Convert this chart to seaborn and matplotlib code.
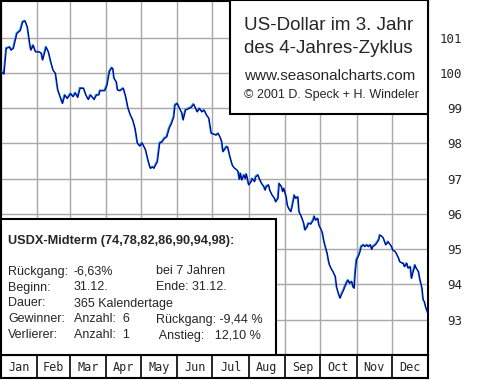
import matplotlib
matplotlib.use("Agg")
import matplotlib.pyplot as plt
import matplotlib.patheffects as pe
from matplotlib.patches import Rectangle
import numpy as np
import pandas as pd
import seaborn as sns

# --- DATEN ---
# Tag im Jahr (0..365) und Indexstand USDX (Durchschnitt der Midterm-Jahre)
tage = [1, 3, 5, 8, 9, 11, 14, 17, 19, 21, 23, 25, 26, 28, 30, 33, 35, 36, 39, 41,
        43, 45, 47, 49, 51, 53, 55, 57, 60, 62, 64, 66, 68, 71, 73, 75, 77, 80, 82, 84,
        85, 89, 91, 93, 95, 96, 97, 99, 100, 102, 105, 107, 109, 111, 113, 115, 117, 119, 121, 124,
        126, 128, 130, 131, 134, 136, 138, 140, 142, 144, 146, 148, 149, 151, 153, 155, 156, 158, 161, 163,
        165, 166, 168, 170, 172, 174, 176, 178, 180, 182, 184, 186, 188, 189, 190, 193, 194, 196, 198, 199,
        200, 202, 203, 204, 205, 206, 208, 209, 210, 212, 214, 215, 217, 218, 220, 221, 223, 225, 226, 227,
        229, 230, 232, 234, 235, 237, 238, 240, 241, 242, 244, 245, 246, 248, 249, 251, 252, 254, 255, 257,
        259, 260, 262, 263, 265, 267, 268, 269, 271, 272, 274, 275, 276, 277, 279, 280, 281, 283, 284, 286,
        287, 289, 290, 291, 293, 294, 296, 297, 298, 300, 301, 302, 303, 304, 306, 307, 308, 310, 311, 313,
        314, 316, 317, 318, 320, 321, 323, 324, 326, 327, 329, 330, 331, 333, 334, 335, 337, 338, 340, 341,
        343, 344, 345, 347, 348, 350, 351, 352, 354, 355, 357, 358, 360, 361, 362, 363, 364, 365]
kurs = [100.03, 99.96, 100.69, 100.73, 100.64, 100.69, 101.11, 101.20, 101.44, 101.47,
        101.30, 100.83, 100.64, 100.78, 100.59, 100.59, 100.55, 100.36, 100.73, 100.59,
        100.31, 100.07, 99.98, 99.51, 99.32, 99.13, 99.37, 99.27, 99.41, 99.32,
        99.43, 99.30, 99.56, 99.56, 99.37, 99.24, 99.37, 99.24, 99.37, 99.37,
        99.49, 99.49, 99.65, 100.03, 100.14, 100.12, 99.84, 99.74, 99.51, 99.49,
        99.56, 99.32, 98.99, 98.80, 98.66, 98.42, 98.00, 97.92, 98.01, 97.81,
        97.52, 97.29, 97.33, 97.29, 97.48, 98.01, 98.04, 98.14, 98.18, 98.42,
        98.56, 98.75, 99.08, 99.13, 98.99, 98.85, 98.66, 98.94, 98.99, 99.02,
        99.11, 99.04, 98.89, 98.99, 98.89, 98.94, 98.80, 98.71, 98.28, 98.26,
        98.23, 98.28, 98.14, 98.04, 97.76, 97.90, 97.90, 97.62, 97.38, 97.33,
        97.29, 97.24, 97.19, 96.98, 97.15, 96.96, 97.10, 97.00, 97.13, 96.82,
        96.91, 97.00, 96.91, 97.05, 97.10, 97.00, 96.86, 96.77, 96.67, 96.77,
        96.82, 96.67, 96.53, 96.44, 96.34, 96.44, 96.86, 96.77, 96.63, 96.72,
        96.48, 96.25, 96.16, 96.06, 96.20, 96.53, 96.44, 96.48, 96.06, 95.92,
        95.73, 95.54, 95.64, 95.73, 95.71, 95.82, 95.93, 95.82, 95.87, 95.68,
        95.54, 95.45, 95.26, 95.12, 94.88, 94.69, 94.55, 94.41, 94.36, 94.22,
        93.93, 93.70, 93.61, 93.70, 93.84, 93.93, 94.08, 94.12, 94.03, 94.08,
        93.93, 93.89, 94.36, 94.69, 94.83, 94.93, 95.07, 95.12, 95.07, 95.12,
        95.07, 95.12, 94.99, 95.07, 95.12, 95.16, 95.26, 95.40, 95.35, 95.31,
        95.12, 95.16, 95.21, 95.12, 95.07, 94.97, 94.93, 94.88, 94.74, 94.64,
        94.60, 94.60, 94.50, 94.60, 94.46, 94.50, 94.17, 94.31, 94.55, 94.46,
        94.36, 94.17, 93.89, 93.56, 93.51, 93.37, 93.27, 93.18]

monate = ["Jan", "Feb", "Mar", "Apr", "May", "Jun", "Jul", "Aug", "Sep", "Oct", "Nov", "Dec"]
monatstage = [31, 28, 31, 30, 31, 30, 31, 31, 30, 31, 30, 31]
y_ticks = [93, 94, 95, 96, 97, 98, 99, 100, 101]

titel = ["US-Dollar im 3. Jahr", "des 4-Jahres-Zyklus"]
quelle = "www.seasonalcharts.com"
copyright_txt = "\u00a9 2001 D. Speck + H. Windeler"
info_titel = "USDX-Midterm (74,78,82,86,90,94,98):"
info_spalte1 = ["R\u00fcckgang:", "Beginn:", "Dauer:", "Gewinner:", "Verlierer:"]
info_spalte2 = ["-6,63%", "31.12.", "365 Kalendertage", "Anzahl:  6", "Anzahl:  1"]
info_spalte3 = ["bei 7 Jahren", "Ende: 31.12.", "", "R\u00fcckgang: -9,44 %", " Anstieg:   12,10 %"]

W, H = 480, 380


def fx(x):
    return x / W


def fy(y):
    return 1 - y / H


sns.set_style("white")
plt.rcParams["font.family"] = ["Liberation Sans", "DejaVu Sans"]

df = pd.DataFrame({"tag": tage, "kurs": kurs})
grenzen = np.concatenate([[0], np.cumsum(monatstage)])

fig = plt.figure(figsize=(W / 100, H / 100), dpi=100)
fig.patch.set_facecolor("white")

ax = fig.add_axes([fx(0.5), fy(355), fx(427.5), 354.5 / H])
ax.set_facecolor("white")
sns.lineplot(data=df, x="tag", y="kurs", ax=ax, estimator=None, color="#0000a0",
             lw=0.9, zorder=3,
             path_effects=[pe.SimpleLineShadow(offset=(-0.5, 0.5), shadow_color="#10a0d0", alpha=1.0),
                           pe.Normal()])
ax.set_xlim(0, 365)
ax.set_ylim(92.0, 102.05)
ax.set_xticks(grenzen)
ax.set_xticklabels([])
ax.set_yticks(y_ticks)
ax.yaxis.tick_right()
ax.tick_params(axis="both", length=0)
ax.tick_params(axis="y", pad=24.5, labelsize=9)
for lab in ax.get_yticklabels():
    lab.set_horizontalalignment("right")
    lab.set_fontfamily("DejaVu Sans Mono")
ax.grid(True, color="#a8a8a8", lw=1.0)
ax.set_xlabel("")
ax.set_ylabel("")
for s in ax.spines.values():
    s.set_color("black")
    s.set_linewidth(1.5)

# Monatsleiste
axm = fig.add_axes([fx(0.5), fy(378), fx(427.5), 23 / H])
axm.set_xlim(0, 365)
axm.set_ylim(0, 1)
axm.set_xticks([])
axm.set_yticks([])
for g in grenzen[1:-1]:
    axm.axvline(g, color="black", lw=1.2)
for i, m in enumerate(monate):
    axm.text((grenzen[i] + grenzen[i + 1]) / 2, 0.45, m, ha="center", va="center",
             fontsize=8.5, family="DejaVu Sans Mono")
for s in axm.spines.values():
    s.set_color("black")
    s.set_linewidth(1.5)

# Titelbox
fig.add_artist(Rectangle((fx(230), fy(114)), fx(428 - 230), 114 / H, transform=fig.transFigure,
                         facecolor="white", edgecolor="black", lw=1.5, zorder=5))
fig.text(fx(244), fy(30), titel[0], fontsize=13.5, va="baseline", zorder=6)
fig.text(fx(244), fy(53), titel[1], fontsize=13.5, va="baseline", zorder=6)
fig.text(fx(244), fy(80), quelle, fontsize=11, va="baseline", zorder=6)
fig.text(fx(244), fy(98), copyright_txt, fontsize=9, va="baseline", zorder=6)

# Infobox
fig.add_artist(Rectangle((fx(0.5), fy(355)), fx(275), (355 - 219) / H, transform=fig.transFigure,
                         facecolor="white", edgecolor="black", lw=1.5, zorder=5))
fig.text(fx(8), fy(243.5), info_titel, fontsize=9.2, fontweight="bold", va="baseline", zorder=6)
for i in range(5):
    yb = 274.5 + i * 16
    fig.text(fx(8), fy(yb), info_spalte1[i], fontsize=9, va="baseline", zorder=6)
    fig.text(fx(74), fy(yb), info_spalte2[i], fontsize=9, va="baseline", zorder=6)
    if info_spalte3[i]:
        fig.text(fx(156), fy(yb), info_spalte3[i], fontsize=9, va="baseline", zorder=6)

fig.savefig("out.png", dpi=100, facecolor="white")
